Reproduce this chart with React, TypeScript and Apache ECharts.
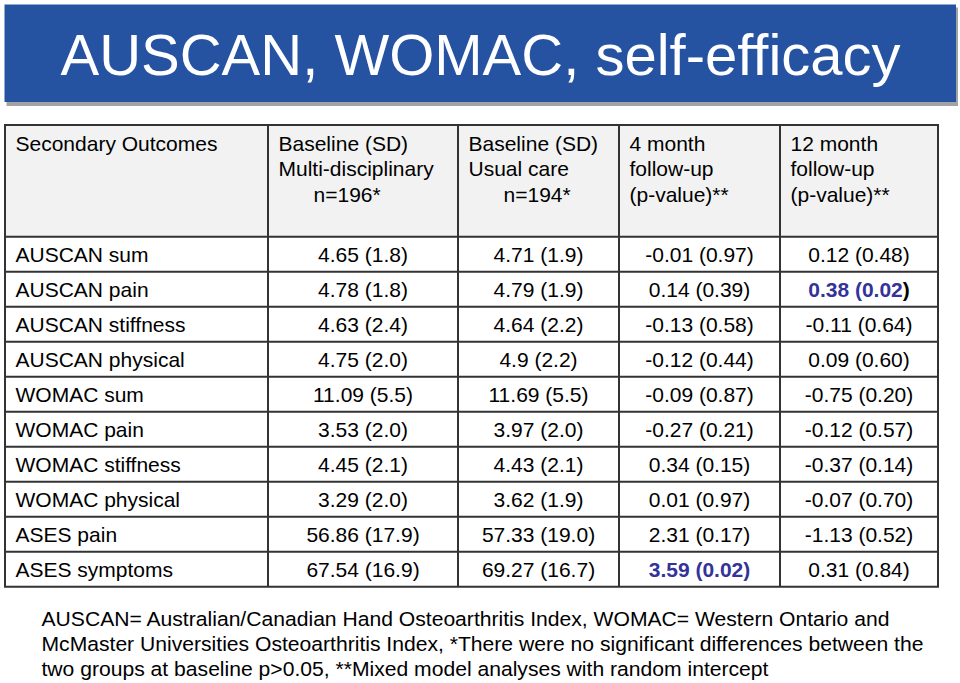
import React, { useEffect, useRef } from "react";
import * as echarts from "echarts";

const title = "AUSCAN, WOMAC, self-efficacy";

const headerLines: string[][] = [
  ["Secondary Outcomes"],
  ["Baseline (SD)", "Multi-disciplinary", "\u00a0\u00a0\u00a0\u00a0\u00a0\u00a0n=196*"],
  ["Baseline (SD)", "Usual care", "\u00a0\u00a0\u00a0\u00a0\u00a0\u00a0n=194*"],
  ["4 month", "follow-up", "(p-value)**"],
  ["12 month", "follow-up", "(p-value)**"],
];

const outcomes = [
  "AUSCAN sum",
  "AUSCAN pain",
  "AUSCAN stiffness",
  "AUSCAN physical",
  "WOMAC sum",
  "WOMAC pain",
  "WOMAC stiffness",
  "WOMAC physical",
  "ASES pain",
  "ASES symptoms",
];

const baselineMulti = [
  "4.65 (1.8)", "4.78 (1.8)", "4.63 (2.4)", "4.75 (2.0)", "11.09 (5.5)",
  "3.53 (2.0)", "4.45 (2.1)", "3.29 (2.0)", "56.86 (17.9)", "67.54 (16.9)",
];

const baselineUsual = [
  "4.71 (1.9)", "4.79 (1.9)", "4.64 (2.2)", "4.9 (2.2)", "11.69 (5.5)",
  "3.97 (2.0)", "4.43 (2.1)", "3.62 (1.9)", "57.33 (19.0)", "69.27 (16.7)",
];

const month4 = [
  "-0.01 (0.97)", "0.14 (0.39)", "-0.13 (0.58)", "-0.12 (0.44)", "-0.09 (0.87)",
  "-0.27 (0.21)", "0.34 (0.15)", "0.01 (0.97)", "2.31 (0.17)", "3.59 (0.02)",
];

const month12 = [
  "0.12 (0.48)", "0.38 (0.02)", "-0.11 (0.64)", "0.09 (0.60)", "-0.75 (0.20)",
  "-0.12 (0.57)", "-0.37 (0.14)", "-0.07 (0.70)", "-1.13 (0.52)", "0.31 (0.84)",
];

const significant4 = [false, false, false, false, false, false, false, false, false, true];
const significant12 = [false, true, false, false, false, false, false, false, false, false];

const footnoteLines = [
  "AUSCAN= Australian/Canadian Hand Osteoarthritis Index, WOMAC= Western Ontario and",
  "McMaster Universities Osteoarthritis Index, *There were no significant differences between the",
  "two groups at baseline p>0.05, **Mixed model analyses with random intercept",
];

const FONT = "'Liberation Sans', Arial, Helvetica, sans-serif";

function buildGraphic() {
  const els: any[] = [];
  const colX = [5, 268, 458, 619, 780, 938];
  const tableTop = 125;
  const headerBottom = 236.7;
  const rowH = 35;
  const nRows = outcomes.length;
  const tableBottom = headerBottom + rowH * nRows;
  const pad = 10.5;
  const lineColor = "#333333";
  const fs = 21;
  const fsFoot = 21.12;

  // title bar
  els.push({ type: "rect", shape: { x: 6.5, y: 7.5, width: 951.5, height: 98.5 }, style: { fill: "#a3a3a3" }, silent: true });
  els.push({ type: "rect", shape: { x: 4.5, y: 4.5, width: 951.5, height: 97.5 }, style: { fill: "#2553a2" }, silent: true });
  els.push({
    type: "text",
    x: 480.5,
    y: 54,
    style: { text: title, fill: "#ffffff", font: `58px ${FONT}`, align: "center", verticalAlign: "middle" },
    silent: true,
  });

  // table backgrounds
  els.push({ type: "rect", shape: { x: colX[0], y: tableTop, width: colX[5] - colX[0], height: headerBottom - tableTop }, style: { fill: "#f2f2f2" }, silent: true });
  els.push({ type: "rect", shape: { x: colX[0], y: headerBottom, width: colX[5] - colX[0], height: tableBottom - headerBottom }, style: { fill: "#ffffff" }, silent: true });

  // header text
  const headerCenters = [143, 168.5, 194];
  headerLines.forEach((lines, c) => {
    lines.forEach((t, i) => {
      els.push({
        type: "text",
        x: colX[c] + pad,
        y: headerCenters[i],
        style: { text: t, fill: "#000000", font: `${fs}px ${FONT}`, align: "left", verticalAlign: "middle" },
        silent: true,
      });
    });
  });

  // data rows
  const rich = {
    b: { fill: "#333399", fontWeight: "bold", fontSize: fs, fontFamily: FONT },
    k: { fill: "#000000", fontWeight: "bold", fontSize: fs, fontFamily: FONT },
  };
  for (let r = 0; r < nRows; r++) {
    const cy = headerBottom + rowH * r + rowH / 2;
    els.push({
      type: "text",
      x: colX[0] + pad,
      y: cy,
      style: { text: outcomes[r], fill: "#000000", font: `${fs}px ${FONT}`, align: "left", verticalAlign: "middle" },
      silent: true,
    });
    const cells = [baselineMulti[r], baselineUsual[r], month4[r], month12[r]];
    const sig = [false, false, significant4[r], significant12[r]];
    cells.forEach((v, k) => {
      const c = k + 1;
      const cx = (colX[c] + colX[c + 1]) / 2;
      let style: any;
      if (sig[k]) {
        const txt = k === 3 ? `{b|${v.slice(0, -1)}}{k|)}` : `{b|${v}}`;
        style = { text: txt, rich, fill: "#333399", font: `bold ${fs}px ${FONT}`, align: "center", verticalAlign: "middle" };
      } else {
        style = { text: v, fill: "#000000", font: `${fs}px ${FONT}`, align: "center", verticalAlign: "middle" };
      }
      els.push({ type: "text", x: cx, y: cy, style, silent: true });
    });
  }

  // grid lines
  const hLines = [tableTop, headerBottom];
  for (let r = 1; r <= nRows; r++) hLines.push(headerBottom + rowH * r);
  hLines.forEach((y) => {
    els.push({ type: "line", shape: { x1: colX[0] - 1, y1: y, x2: colX[5] + 1, y2: y }, style: { stroke: lineColor, lineWidth: 2 }, silent: true });
  });
  colX.forEach((x) => {
    els.push({ type: "line", shape: { x1: x, y1: tableTop, x2: x, y2: tableBottom }, style: { stroke: lineColor, lineWidth: 2 }, silent: true });
  });

  // footnote
  const footCenters = [618, 643, 668];
  footnoteLines.forEach((t, i) => {
    els.push({
      type: "text",
      x: 41.5,
      y: footCenters[i],
      style: { text: t, fill: "#000000", font: `${fsFoot}px ${FONT}`, align: "left", verticalAlign: "middle" },
      silent: true,
    });
  });

  return els;
}

export default function App() {
  const ref = useRef<HTMLDivElement>(null);
  useEffect(() => {
    if (!ref.current) return;
    const chart = echarts.init(ref.current, undefined, { renderer: "svg" });
    chart.setOption({
      animation: false,
      backgroundColor: "#ffffff",
      graphic: { elements: buildGraphic() },
    });
    return () => chart.dispose();
  }, []);
  return (
    <div
      ref={ref}
      style={{ position: "fixed", left: 0, top: 0, width: 960, height: 683, background: "#ffffff" }}
    />
  );
}
